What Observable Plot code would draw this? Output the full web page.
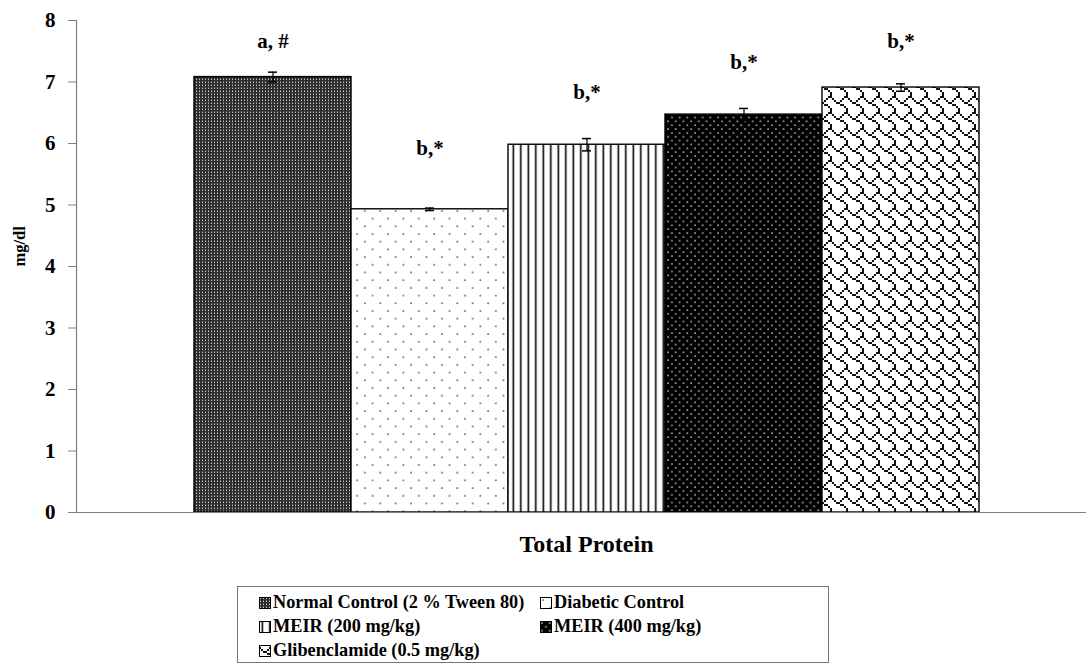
<!DOCTYPE html>
<html>
<head>
<meta charset="utf-8">
<script src="https://cdn.jsdelivr.net/npm/d3@7"></script>
<script src="https://cdn.jsdelivr.net/npm/@observablehq/plot@0.6"></script>
<style>
  body { margin: 0; background: #fff; font-family: "Liberation Serif", "Times New Roman", serif; }
  #chart svg { display: block; }
  #legend {
    margin: 6px 0 0 237px; width: 592px; border: 1px solid #777; box-sizing: border-box;
    padding: 4px 0 0 21px; display: grid; grid-template-columns: 281px 281px; row-gap: 1px;
    font-weight: bold; font-size: 18.3px; line-height: 23px; color: #000;
  }
  #legend .item { display: flex; align-items: center; white-space: nowrap; }
  #legend svg { margin-right: 2px; }
</style>
</head>
<body>
<div id="chart"></div>
<div id="legend"></div>
<script>
const groups = ["Normal Control (2 % Tween 80)", "Diabetic Control", "MEIR (200 mg/kg)", "MEIR (400 mg/kg)", "Glibenclamide (0.5 mg/kg)"];
const values = [7.08, 4.93, 5.98, 6.47, 6.91];
const errors = [0.08, 0.02, 0.10, 0.10, 0.06];
const annotations = ["a, #", "b,*", "b,*", "b,*", "b,*"];
const annotationLevels = [7.67, 5.92, 6.83, 7.32, 7.67];
const patternIds = ["p1", "p2", "p3", "p4", "p5"];
const yTicks = [0, 1, 2, 3, 4, 5, 6, 7, 8];
const xTitle = "Total Protein";
const yTitle = "mg/dl";

const data = groups.map((g, i) => ({
  group: g, value: values[i], err: errors[i], note: annotations[i], level: annotationLevels[i], pat: patternIds[i]
}));

// "Shingle" 8x8 hatch bitmap, drawn at 2x
const shingleBits = [0x03, 0x84, 0x48, 0x30, 0x0c, 0x02, 0x01, 0x01];
let shinglePath = "";
shingleBits.forEach((b, row) => {
  for (let x = 0; x < 8; x++) if (b & (0x80 >> x)) shinglePath += `M${x * 2},${row * 2}h2v2h-2z`;
});

const defs = `
<defs>
  <pattern id="p1" patternUnits="userSpaceOnUse" width="3" height="3">
    <rect width="3" height="3" fill="#2e2e2e"/>
    <rect x="1" y="1" width="1" height="1" fill="#c8c8c8"/>
    <rect x="1" y="0" width="1" height="1" fill="#6a6a6a"/>
  </pattern>
  <pattern id="p2" patternUnits="userSpaceOnUse" width="15.4" height="15.4">
    <rect width="15.4" height="15.4" fill="#fff"/>
    <circle cx="3" cy="3" r="0.9" fill="#444"/>
    <circle cx="10.7" cy="10.7" r="0.9" fill="#444"/>
  </pattern>
  <pattern id="p3" patternUnits="userSpaceOnUse" width="7.5" height="10">
    <rect width="7.5" height="10" fill="#fff"/>
    <rect x="2.5" y="0" width="1.6" height="10" fill="#000"/>
  </pattern>
  <pattern id="p4" patternUnits="userSpaceOnUse" width="7.7" height="7.7">
    <rect width="7.7" height="7.7" fill="#000"/>
    <circle cx="2" cy="2" r="0.85" fill="#d8d8d8"/>
    <circle cx="5.85" cy="5.85" r="0.85" fill="#d8d8d8"/>
  </pattern>
  <pattern id="p5" patternUnits="userSpaceOnUse" width="16" height="16">
    <rect width="16" height="16" fill="#fff"/>
    <path d="${shinglePath}" fill="#111"/>
  </pattern>
</defs>`;

const plot = Plot.plot({
  width: 1086,
  height: 580,
  marginLeft: 76,
  marginRight: 0,
  marginTop: 20,
  marginBottom: 68,
  style: { fontFamily: "'Liberation Serif', 'Times New Roman', serif", fontWeight: "bold", fontSize: "21px", color: "#000", background: "#fff" },
  x: { type: "band", domain: groups, range: [192, 981], paddingInner: 0, paddingOuter: 0, axis: null },
  y: { domain: [0, 8], ticks: yTicks },
  marks: [
    Plot.axisY({ ticks: yTicks, tickSize: 8, tickPadding: 13, label: null, stroke: "#808080", fill: "#000", fontSize: 21, fontWeight: "bold" }),
    Plot.text([yTitle], { frameAnchor: "left", dx: -57, rotate: -90, fontSize: 16.5, fontWeight: "bold", fill: "#000" }),
    ...data.map(d => Plot.barY([d], { x: "group", y: "value", fill: `url(#${d.pat})`, stroke: "#000", strokeWidth: 1.4 })),
    Plot.ruleX(data, { x: "group", y1: d => d.value - d.err, y2: d => d.value + d.err, stroke: "#000", strokeWidth: 1.2 }),
    Plot.tickY(data, { x: "group", y: d => d.value + d.err, insetLeft: 74, insetRight: 74, stroke: "#000", strokeWidth: 1.5 }),
    Plot.tickY(data, { x: "group", y: d => d.value - d.err, insetLeft: 74, insetRight: 74, stroke: "#000", strokeWidth: 1.5 }),
    Plot.text(data, { x: "group", y: "level", text: "note", fontSize: 21, fontWeight: "bold", fill: "#000" }),
    Plot.frame({ anchor: "left", stroke: "#808080", strokeWidth: 1.2 }),
    Plot.ruleY([0], { stroke: "#808080", strokeWidth: 1.2, insetLeft: -8 }),
    Plot.text([xTitle], { frameAnchor: "bottom", dx: 5, dy: 39, fontSize: 24, fontWeight: "bold", fill: "#000" })
  ]
});
plot.insertAdjacentHTML("afterbegin", defs);
document.getElementById("chart").appendChild(plot);

const legend = document.getElementById("legend");
groups.forEach((g, i) => {
  const item = document.createElement("div");
  item.className = "item";
  item.innerHTML = `<svg width="12" height="12"><rect x="0.5" y="0.5" width="11" height="11" fill="url(#${patternIds[i]})" stroke="#000" stroke-width="1"/></svg><span>${g}</span>`;
  legend.appendChild(item);
});
</script>
</body>
</html>
